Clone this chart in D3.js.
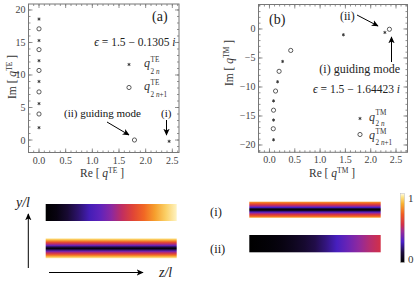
<!DOCTYPE html>
<html><head><meta charset="utf-8">
<script src="https://cdn.jsdelivr.net/npm/d3@7"></script>
<style>
body{margin:0;background:#fff;}
svg{display:block;}
text{font-family:"Liberation Serif","DejaVu Serif",serif;}
</style></head>
<body>
<svg id="c" width="415" height="282"></svg>
<script>
// ---------- data ----------
const teStarRe = [0.0, 0.0, 0.0, 0.0, 0.0, 0.0, 2.44];
const teStarIm = [1.9, 5.6, 9.0, 12.2, 15.3, 18.6, -0.2];
const teCircRe = [0.0, 0.0, 0.0, 0.0, 0.0, 1.79];
const teCircIm = [4.0, 7.4, 10.7, 13.9, 17.1, 0.0];
const tmStarRe = [0.08, 0.08, 0.08, 0.16, 0.26, 1.46, 2.28];
const tmStarIm = [-19.1, -15.7, -12.4, -9.1, -5.6, -1.0, -0.6];
const tmCircRe = [0.075, 0.08, 0.12, 0.19, 0.42, 2.37];
const tmCircIm = [-17.2, -14.0, -10.7, -7.3, -3.7, -0.05];
const xTicksA = [0, 0.5, 1, 1.5, 2, 2.5];
const yTicksA = [0, 5, 10, 15, 20];
const xTicksB = [0, 0.5, 1, 1.5, 2, 2.5];
const yTicksB = [-20, -15, -10, -5, 0];
// field intensity profiles (0..1)
const fieldA1 = [0, 0.04, 0.12, 0.2, 0.28, 0.34, 0.42, 0.52, 0.62, 0.72, 0.82, 0.91, 0.98]; // along z
const fieldA2 = [0.97, 0.88, 0.76, 0.62, 0.50, 0.36, 0.18, 0.0, 0.18, 0.36, 0.50, 0.62, 0.76, 0.88, 0.97]; // along y
const fieldB1 = [0.82, 0.74, 0.64, 0.54, 0.44, 0.30, 0.14, 0.0, 0.14, 0.30, 0.44, 0.54, 0.64, 0.74, 0.82]; // along y
const fieldB2 = [0, 0.01, 0.02, 0.04, 0.07, 0.11, 0.16, 0.22, 0.29, 0.36, 0.43, 0.50, 0.55]; // along z
const cmapStops = [0, 0.15, 0.3, 0.45, 0.55, 0.7, 0.85, 0.95, 1];
const cmapColors = ["#000000", "#1e0c40", "#4a20c8", "#9a2a98", "#d23048", "#f05c22", "#f8b030", "#fde68a", "#fffbe8"];

// ---------- setup ----------
const svg = d3.select("#c");
const defs = svg.append("defs");
const cmap = d3.scaleLinear().domain(cmapStops).range(cmapColors).interpolate(d3.interpolateRgb);

defs.append("marker").attr("id","ah").attr("viewBox","0 0 10 10").attr("refX",9).attr("refY",5)
  .attr("markerWidth",7).attr("markerHeight",7).attr("orient","auto-start-reverse")
  .append("path").attr("d","M0,0.5 L10,5 L0,9.5 L2.5,5 z").attr("fill","#000");

function frame(x, y, ticksX, ticksY, minorX, minorY) {
  const g = svg.append("g");
  const [x0, x1] = x.range(), [y0, y1] = y.range();
  const col = "#777";
  g.append("rect").attr("x", x0).attr("y", y1).attr("width", x1 - x0).attr("height", y0 - y1)
    .attr("fill","none").attr("stroke", col).attr("stroke-width", 1);
  const tick = (xs, len, isX) => {
    xs.forEach(v => {
      if (isX) {
        const px = x(v);
        if (px < x0 || px > x1) return;
        g.append("line").attr("x1",px).attr("x2",px).attr("y1",y0).attr("y2",y0-len).attr("stroke",col).attr("stroke-width",0.8);
        g.append("line").attr("x1",px).attr("x2",px).attr("y1",y1).attr("y2",y1+len).attr("stroke",col).attr("stroke-width",0.8);
      } else {
        const py = y(v);
        if (py > y0 || py < y1) return;
        g.append("line").attr("y1",py).attr("y2",py).attr("x1",x0).attr("x2",x0+len).attr("stroke",col).attr("stroke-width",0.8);
        g.append("line").attr("y1",py).attr("y2",py).attr("x1",x1).attr("x2",x1-len).attr("stroke",col).attr("stroke-width",0.8);
      }
    });
  };
  tick(ticksX, 4, true); tick(minorX, 2, true);
  tick(ticksY, 4, false); tick(minorY, 2, false);
  g.selectAll(".xl").data(ticksX).join("text").attr("x", d => x(d)).attr("y", y0 + 11)
    .attr("text-anchor","middle").attr("font-size", 10).attr("fill","#444").text(d => d3.format(".1f")(d));
  g.selectAll(".yl").data(ticksY).join("text").attr("x", x0 - 3).attr("y", d => y(d) + 3.5)
    .attr("text-anchor","end").attr("font-size", 10).attr("fill","#444").text(d => d < 0 ? "\u2212" + Math.abs(d) : d);
}

const starSym = d3.symbol().type(d3.symbolAsterisk).size(7);
function markers(x, y, sre, sim, cre, cim) {
  const g = svg.append("g");
  g.selectAll(".s").data(sre).join("path").attr("d", starSym)
    .attr("transform", (d, i) => `translate(${x(d)},${y(sim[i])})`).attr("stroke","#333").attr("stroke-width",0.9).attr("fill","none");
  g.selectAll(".o").data(cre).join("circle").attr("cx", d => x(d)).attr("cy", (d, i) => y(cim[i])).attr("r", 2.1)
    .attr("fill","none").attr("stroke","#333").attr("stroke-width",0.8);
}

// legend label: q with superscript and subscript as separate small texts
function qlabel(px, py, sup, plus, supDy, subDy) {
  svg.append("text").attr("x", px).attr("y", py).attr("font-size", 12).attr("font-style","italic").attr("fill","#333").text("q");
  svg.append("text").attr("x", px + 6.5).attr("y", py + supDy).attr("font-size", 7.2).attr("fill","#333").text(sup);
  const t = svg.append("text").attr("x", px + 6.5).attr("y", py + subDy).attr("font-size", 7.2).attr("fill","#333");
  t.append("tspan").text("2 ");
  t.append("tspan").attr("font-style","italic").text("n");
  if (plus) t.append("tspan").text("+1");
}
function axisLabel(px, py, sup, rot) {
  const t = svg.append("text").attr("font-size", 11.5).attr("fill","#333").attr("text-anchor","middle")
    .attr("transform", `translate(${px},${py})` + (rot ? " rotate(-90)" : ""));
  t.append("tspan").text((rot ? "Im" : "Re") + " [ ");
  t.append("tspan").attr("font-style","italic").text("q");
  t.append("tspan").attr("font-size", 7.5).attr("dy", -4.5).text(sup);
  t.append("tspan").attr("dy", 4.5).text(" ]");
}
function epsText(px, py, val) {
  const t = svg.append("text").attr("x", px).attr("y", py).attr("font-size", 11.5).attr("fill","#222").attr("text-anchor","end");
  t.append("tspan").attr("font-style","italic").text("\u03f5");
  t.append("tspan").text(" = 1.5 \u2212 " + val + " ");
  t.append("tspan").attr("font-style","italic").text("i");
}
function arrow(x1, y1, x2, y2) {
  svg.append("line").attr("x1",x1).attr("y1",y1).attr("x2",x2).attr("y2",y2)
    .attr("stroke","#000").attr("stroke-width",1).attr("marker-end","url(#ah)");
}

// ---------- panel (a) ----------
const xA = d3.scaleLinear().domain([-0.197, 2.625]).range([28.5, 179]);
const yA = d3.scaleLinear().domain([-1.92, 20.92]).range([152.5, 4]);
frame(xA, yA, xTicksA, yTicksA, d3.range(-0.1, 2.65, 0.1), d3.range(-1, 21, 1));
markers(xA, yA, teStarRe, teStarIm, teCircRe, teCircIm);
svg.append("text").attr("x", 152).attr("y", 21).attr("font-size", 14).attr("fill","#222").text("(a)");
epsText(175.5, 46, "0.1305");
svg.append("path").attr("d", starSym()).attr("transform","translate(129,64.5)")
  .attr("stroke","#333").attr("stroke-width",0.9);
svg.append("circle").attr("cx",129).attr("cy",87.5).attr("r",2.1).attr("fill","none").attr("stroke","#333").attr("stroke-width",0.8);
qlabel(144, 67, "TE", false, -5.5, 6.5);
qlabel(144, 90, "TE", true, -5.5, 6.5);
svg.append("text").attr("x", 64).attr("y", 117).attr("font-size", 11).attr("font-family","Lato, 'Open Sans', sans-serif").attr("fill","#111").text("(ii) guiding mode");
svg.append("text").attr("x", 161).attr("y", 117).attr("font-size", 11).attr("font-family","Lato, 'Open Sans', sans-serif").attr("fill","#111").text("(i)");
arrow(107, 122, 129, 135);
arrow(166.5, 120, 166.5, 135);
axisLabel(16, 77, "TE", true);
axisLabel(102, 177, "TE", false);

// ---------- panel (b) ----------
const xB = d3.scaleLinear().domain([-0.217, 2.727]).range([258.5, 407.5]);
const yB = d3.scaleLinear().domain([-21.26, 4.22]).range([152.3, 4.5]);
frame(xB, yB, xTicksB, yTicksB, d3.range(-0.2, 2.75, 0.1), d3.range(-21, 5, 1));
markers(xB, yB, tmStarRe, tmStarIm, tmCircRe, tmCircIm);
svg.append("text").attr("x", 269).attr("y", 24).attr("font-size", 14).attr("fill","#222").text("(b)");
svg.append("text").attr("x", 340).attr("y", 20).attr("font-size", 12).attr("fill","#222").text("(ii)");
arrow(357, 15, 378, 26);
svg.append("text").attr("x", 400).attr("y", 73).attr("font-size", 12).attr("fill","#222").attr("text-anchor","end").text("(i) guiding mode");
arrow(391.5, 62, 391.5, 37);
epsText(400, 93, "1.64423");
svg.append("path").attr("d", starSym()).attr("transform","translate(360,118.5)")
  .attr("stroke","#333").attr("stroke-width",0.9);
svg.append("circle").attr("cx",360).attr("cy",134.5).attr("r",2.1).attr("fill","none").attr("stroke","#333").attr("stroke-width",0.8);
qlabel(369, 120.5, "TM", false, -5.5, 5.2);
qlabel(369, 138.5, "TM", true, -4.2, 6);
axisLabel(233, 63, "TM", true);
axisLabel(332, 177, "TM", false);

// ---------- field maps ----------
function gradRect(id, vals, vertical, x, y, w, h) {
  const lg = defs.append("linearGradient").attr("id", id)
    .attr("x1", 0).attr("y1", 0).attr("x2", vertical ? 0 : 1).attr("y2", vertical ? 1 : 0);
  const pos = d3.scaleLinear().domain([0, vals.length - 1]).range([0, 1]);
  lg.selectAll("stop").data(vals).join("stop").attr("offset", (d, i) => pos(i)).attr("stop-color", d => cmap(d));
  svg.append("rect").attr("x", x).attr("y", y).attr("width", w).attr("height", h).attr("fill", `url(#${id})`);
}
gradRect("gA1", fieldA1, false, 45.7, 204, 131, 17);
gradRect("gA2", fieldA2, true, 45.7, 238.3, 131, 20);
gradRect("gB1", fieldB1, true, 249.3, 201.7, 131.4, 16);
gradRect("gB2", fieldB2, false, 249.3, 235, 131.4, 17.3);

// colorbar
const cbVals = d3.range(0, 1.0001, 0.05).reverse();
gradRect("gCB", cbVals, true, 400.5, 193.5, 4, 69);
svg.append("rect").attr("x",400.5).attr("y",193.5).attr("width",4).attr("height",69).attr("fill","none").attr("stroke","#bbb").attr("stroke-width",0.5);
svg.append("text").attr("x", 408).attr("y", 202).attr("font-size", 11).attr("fill","#333").text("1");
svg.append("text").attr("x", 408).attr("y", 263).attr("font-size", 11).attr("fill","#333").text("0");

// labels and axes arrows
svg.append("text").attr("x", 16).attr("y", 207).attr("font-size", 14).attr("font-style","italic").attr("fill","#222").text("y/l");
svg.append("text").attr("x", 159).attr("y", 277).attr("font-size", 14).attr("font-style","italic").attr("fill","#222").text("z/l");
arrow(28.3, 268, 28.3, 214);
arrow(49, 272.5, 143, 272.5);
svg.append("text").attr("x", 210).attr("y", 216).attr("font-size", 12.5).attr("fill","#222").text("(i)");
svg.append("text").attr("x", 210).attr("y", 253).attr("font-size", 12.5).attr("fill","#222").text("(ii)");
</script>
</body></html>
